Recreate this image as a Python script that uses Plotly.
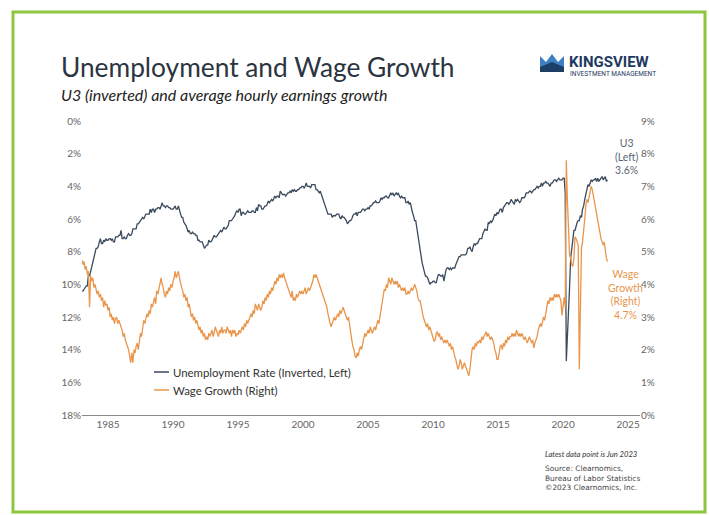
import pandas as pd
import plotly.graph_objects as go

# ---------------- DATA ----------------
start_month = "1983-01-01"

unemployment = [
    10.4, 10.4, 10.3, 10.2, 10.1, 10.1, 9.4, 9.5, 9.2, 8.8, 8.5, 8.3,   # 1983
    8.0, 7.8, 7.8, 7.7, 7.4, 7.2, 7.5, 7.5, 7.3, 7.4, 7.2, 7.3,         # 1984
    7.3, 7.2, 7.2, 7.3, 7.2, 7.4, 7.4, 7.1, 7.1, 7.1, 7.0, 7.0,         # 1985
    6.7, 7.2, 7.2, 7.1, 7.2, 7.2, 7.0, 6.9, 7.0, 7.0, 6.9, 6.6,         # 1986
    6.6, 6.6, 6.6, 6.3, 6.3, 6.2, 6.1, 6.0, 5.9, 6.0, 5.8, 5.7,         # 1987
    5.7, 5.7, 5.7, 5.4, 5.6, 5.4, 5.4, 5.6, 5.4, 5.4, 5.3, 5.3,         # 1988
    5.4, 5.2, 5.0, 5.2, 5.2, 5.3, 5.2, 5.2, 5.3, 5.3, 5.4, 5.4,         # 1989
    5.4, 5.3, 5.2, 5.4, 5.4, 5.2, 5.5, 5.7, 5.9, 5.9, 6.2, 6.3,         # 1990
    6.4, 6.6, 6.8, 6.7, 6.9, 6.9, 6.8, 6.9, 6.9, 7.0, 7.0, 7.3,         # 1991
    7.3, 7.4, 7.4, 7.4, 7.6, 7.8, 7.7, 7.6, 7.6, 7.3, 7.4, 7.4,         # 1992
    7.3, 7.1, 7.0, 7.1, 7.1, 7.0, 6.9, 6.8, 6.7, 6.8, 6.6, 6.5,         # 1993
    6.6, 6.6, 6.5, 6.4, 6.1, 6.1, 6.1, 6.0, 5.9, 5.8, 5.6, 5.5,         # 1994
    5.6, 5.4, 5.4, 5.8, 5.6, 5.6, 5.7, 5.7, 5.6, 5.5, 5.6, 5.6,         # 1995
    5.6, 5.5, 5.5, 5.6, 5.6, 5.3, 5.5, 5.1, 5.2, 5.2, 5.4, 5.4,         # 1996
    5.3, 5.2, 5.2, 5.1, 4.9, 5.0, 4.9, 4.8, 4.9, 4.7, 4.6, 4.7,         # 1997
    4.6, 4.6, 4.7, 4.3, 4.4, 4.5, 4.5, 4.5, 4.6, 4.5, 4.4, 4.4,         # 1998
    4.3, 4.4, 4.2, 4.3, 4.2, 4.3, 4.3, 4.2, 4.2, 4.1, 4.1, 4.0,         # 1999
    4.0, 4.1, 4.0, 3.8, 4.0, 4.0, 4.0, 4.1, 3.9, 3.9, 3.9, 3.9,         # 2000
    4.2, 4.2, 4.3, 4.4, 4.3, 4.5, 4.6, 4.9, 5.0, 5.3, 5.5, 5.7,         # 2001
    5.7, 5.7, 5.7, 5.9, 5.8, 5.8, 5.8, 5.7, 5.7, 5.7, 5.9, 6.0,         # 2002
    5.8, 5.9, 5.9, 6.0, 6.1, 6.3, 6.2, 6.1, 6.1, 6.0, 5.8, 5.7,         # 2003
    5.7, 5.6, 5.8, 5.6, 5.6, 5.6, 5.5, 5.4, 5.4, 5.5, 5.4, 5.4,         # 2004
    5.3, 5.4, 5.2, 5.2, 5.1, 5.0, 5.0, 4.9, 5.0, 5.0, 5.0, 4.9,         # 2005
    4.7, 4.8, 4.7, 4.7, 4.6, 4.6, 4.7, 4.7, 4.5, 4.4, 4.5, 4.4,         # 2006
    4.6, 4.5, 4.4, 4.5, 4.4, 4.6, 4.7, 4.6, 4.7, 4.7, 4.7, 5.0,         # 2007
    5.0, 4.9, 5.1, 5.0, 5.4, 5.6, 5.8, 6.1, 6.1, 6.5, 6.8, 7.3,         # 2008
    7.8, 8.3, 8.7, 9.0, 9.4, 9.5, 9.5, 9.6, 9.8, 10.0, 9.9, 9.9,        # 2009
    9.8, 9.8, 9.9, 9.9, 9.6, 9.4, 9.4, 9.5, 9.5, 9.4, 9.8, 9.3,         # 2010
    9.1, 9.0, 9.0, 9.1, 9.0, 9.1, 9.0, 9.0, 9.0, 8.8, 8.6, 8.5,         # 2011
    8.3, 8.3, 8.2, 8.2, 8.2, 8.2, 8.2, 8.1, 7.8, 7.8, 7.7, 7.9,         # 2012
    8.0, 7.7, 7.5, 7.6, 7.5, 7.5, 7.3, 7.2, 7.2, 7.2, 6.9, 6.7,         # 2013
    6.6, 6.7, 6.7, 6.2, 6.3, 6.1, 6.2, 6.1, 5.9, 5.7, 5.8, 5.6,         # 2014
    5.7, 5.5, 5.4, 5.4, 5.6, 5.3, 5.2, 5.1, 5.0, 5.0, 5.1, 5.0,         # 2015
    4.8, 4.9, 5.0, 5.1, 4.8, 4.9, 4.8, 4.9, 5.0, 4.9, 4.7, 4.7,         # 2016
    4.7, 4.6, 4.4, 4.4, 4.4, 4.3, 4.3, 4.4, 4.3, 4.2, 4.2, 4.1,         # 2017
    4.0, 4.1, 4.0, 4.0, 3.8, 4.0, 3.8, 3.8, 3.7, 3.8, 3.8, 3.9,         # 2018
    4.0, 3.8, 3.8, 3.7, 3.6, 3.6, 3.7, 3.6, 3.5, 3.6, 3.6, 3.6,         # 2019
    3.5, 3.5, 4.4, 14.7, 13.2, 11.0, 10.2, 8.4, 7.8, 6.9, 6.7, 6.7,     # 2020
    6.4, 6.2, 6.1, 6.1, 5.8, 5.9, 5.4, 5.2, 4.8, 4.5, 4.2, 3.9,         # 2021
    4.0, 3.8, 3.6, 3.7, 3.6, 3.6, 3.5, 3.7, 3.5, 3.7, 3.6, 3.5,         # 2022
    3.4, 3.6, 3.5, 3.4, 3.7, 3.6,                                       # 2023
]

wage_growth = [
    4.75, 4.6, 4.7, 4.45, 4.55, 4.3, 4.4, 3.3, 4.25, 4.1, 4.2, 3.9,     # 1983
    4.0, 3.85, 3.7, 3.8, 3.6, 3.7, 3.5, 3.6, 3.3, 3.5, 3.35, 3.4,       # 1984
    3.2, 3.3, 3.0, 3.1, 2.9, 3.0, 2.8, 2.95, 3.0, 2.8, 2.9, 2.8,        # 1985
    2.7, 2.6, 2.4, 2.5, 2.3, 2.2, 2.1, 2.0, 1.8, 1.6, 1.9, 1.6,         # 1986
    2.0, 1.9, 2.1, 2.2, 2.0, 2.3, 2.5, 2.4, 2.7, 2.9, 2.8, 3.0,         # 1987
    3.1, 3.0, 3.2, 3.1, 3.4, 3.3, 3.5, 3.6, 3.4, 3.8, 3.7, 3.9,         # 1988
    4.0, 4.2, 4.0, 3.9, 3.7, 3.6, 3.8, 3.7, 3.9, 3.8, 4.0, 3.9,         # 1989
    4.1, 4.2, 4.4, 4.2, 4.3, 4.4, 4.2, 4.0, 3.9, 3.8, 3.6, 3.7,         # 1990
    3.5, 3.6, 3.3, 3.4, 3.2, 3.0, 3.1, 2.9, 3.0, 2.8, 2.9, 2.7,         # 1991
    2.6, 2.7, 2.5, 2.6, 2.4, 2.5, 2.3, 2.4, 2.3, 2.5, 2.4, 2.5,         # 1992
    2.6, 2.4, 2.5, 2.7, 2.6, 2.5, 2.4, 2.6, 2.5, 2.7, 2.5, 2.6,         # 1993
    2.6, 2.5, 2.7, 2.6, 2.5, 2.6, 2.4, 2.6, 2.5, 2.6, 2.4, 2.5,         # 1994
    2.45, 2.6, 2.5, 2.6, 2.7, 2.6, 2.8, 2.7, 2.9, 2.8, 2.9, 3.0,        # 1995
    3.1, 3.0, 3.2, 3.1, 3.4, 3.3, 3.2, 3.4, 3.3, 3.2, 3.3, 3.5,         # 1996
    3.4, 3.6, 3.5, 3.7, 3.6, 3.8, 3.7, 3.9, 3.8, 4.0, 4.1, 4.0,         # 1997
    4.2, 4.1, 4.3, 4.2, 4.3, 4.2, 4.35, 4.2, 4.1, 4.0, 3.9, 3.8,        # 1998
    3.7, 3.6, 3.8, 3.5, 3.6, 3.5, 3.7, 3.6, 3.7, 3.8, 3.7, 3.8,         # 1999
    3.7, 3.8, 3.9, 3.7, 3.8, 3.9, 3.8, 3.9, 4.0, 4.1, 4.3, 4.2,         # 2000
    4.3, 4.2, 4.1, 4.0, 3.9, 3.8, 3.7, 3.6, 3.5, 3.4, 3.3, 3.1,         # 2001
    2.9, 2.8, 2.7, 2.8, 2.9, 3.0, 2.9, 3.0, 3.1, 3.0, 3.2, 3.1,         # 2002
    3.2, 3.3, 3.2, 3.1, 3.0, 2.9, 3.0, 2.7, 2.5, 2.3, 2.1, 2.0,         # 2003
    1.8, 1.75, 1.9, 1.8, 2.0, 2.1, 2.0, 2.2, 2.3, 2.5, 2.4, 2.5,        # 2004
    2.6, 2.5, 2.7, 2.6, 2.5, 2.6, 2.7, 2.6, 2.8, 2.9, 2.8, 3.0,         # 2005
    3.2, 3.5, 3.6, 3.85, 3.8, 4.0, 3.9, 4.2, 4.1, 4.0, 4.2, 4.1,        # 2006
    4.0, 4.1, 4.0, 4.1, 3.9, 4.0, 3.9, 3.8, 3.9, 3.8, 3.9, 3.7,         # 2007
    3.7, 3.8, 3.7, 3.8, 3.9, 3.8, 3.9, 4.0, 3.9, 3.8, 3.6, 3.5,         # 2008
    3.5, 3.3, 3.2, 3.0, 2.9, 2.8, 2.7, 2.8, 2.6, 2.7, 2.6, 2.5,         # 2009
    2.4, 2.25, 2.3, 2.5, 2.55, 2.4, 2.5, 2.3, 2.4, 2.3, 2.2, 2.3,       # 2010
    2.2, 2.3, 2.2, 2.1, 2.2, 2.0, 2.1, 1.9, 1.8, 1.7, 1.5, 1.4,         # 2011
    1.5, 1.7, 1.6, 1.4, 1.5, 1.6, 1.5, 1.4, 1.3, 1.2, 1.4, 1.7,         # 2012
    2.0, 2.1, 2.0, 2.2, 2.1, 2.25, 2.2, 2.3, 2.2, 2.4, 2.3, 2.4,        # 2013
    2.5, 2.55, 2.4, 2.5, 2.4, 2.3, 2.4, 2.3, 2.2, 2.0, 1.9, 1.7,        # 2014
    1.7, 1.9, 2.1, 2.15, 2.0, 2.2, 2.1, 2.3, 2.2, 2.4, 2.3, 2.4,        # 2015
    2.4, 2.5, 2.4, 2.5, 2.4, 2.6, 2.5, 2.4, 2.5, 2.4, 2.5, 2.4,         # 2016
    2.3, 2.4, 2.3, 2.2, 2.3, 2.4, 2.3, 2.2, 2.3, 2.05, 2.2, 2.3,        # 2017
    2.4, 2.6, 2.7, 2.8, 2.7, 2.9, 3.0, 2.9, 3.1, 3.3, 3.5, 3.4,         # 2018
    3.6, 3.5, 3.6, 3.5, 3.7, 3.6, 3.7, 3.6, 3.7, 3.6, 3.5, 3.05,        # 2019
    3.4, 3.6, 3.3, 7.8, 6.6, 5.3, 4.9, 4.8, 4.6, 4.55, 4.8, 5.45,       # 2020
    5.4, 5.3, 5.2, 1.4, 3.4, 5.1, 5.3, 5.6, 6.0, 6.4, 6.6, 6.5,         # 2021
    6.7, 6.85, 7.0, 6.9, 6.7, 6.55, 6.3, 6.1, 6.0, 5.7, 5.5, 5.4,       # 2022
    5.3, 5.2, 5.3, 5.0, 4.8, 4.7,                                       # 2023
]

left_ticks = [0, 2, 4, 6, 8, 10, 12, 14, 16, 18]
right_ticks = [0, 1, 2, 3, 4, 5, 6, 7, 8, 9]
year_ticks = [1985, 1990, 1995, 2000, 2005, 2010, 2015, 2020, 2025]

u_dates = pd.date_range(start_month, periods=len(unemployment), freq="MS")
w_dates = pd.date_range(start_month, periods=len(wage_growth), freq="MS")

# ---------------- STYLE ----------------
BLUE = "#3b4a5c"
ORANGE = "#e9964c"
TICK = "#666666"
FONT = "Lato"

W, H = 709, 515
X0, X1, Y0, Y1 = 82, 640, 121, 415   # plot area in page pixels


def px(x):
    return (x - X0) / (X1 - X0)


def py(y):
    return (Y1 - y) / (Y1 - Y0)


fig = go.Figure()
fig.add_trace(go.Scatter(x=u_dates, y=unemployment, mode="lines",
                         line=dict(color=BLUE, width=1.3), yaxis="y",
                         name="Unemployment Rate (Inverted, Left)", showlegend=False))
fig.add_trace(go.Scatter(x=w_dates, y=wage_growth, mode="lines",
                         line=dict(color=ORANGE, width=1.3), yaxis="y2",
                         name="Wage Growth (Right)", showlegend=False))

fig.update_layout(
    width=W, height=H,
    margin=dict(l=X0, r=W - X1, t=Y0, b=H - Y1, autoexpand=False),
    paper_bgcolor="white", plot_bgcolor="white",
    font=dict(family=FONT, color=TICK, size=10),
    xaxis=dict(
        type="date",
        range=["1983-01-01", "2025-12-01"],
        tickvals=[f"{y}-01-01" for y in year_ticks],
        ticktext=[str(y) for y in year_ticks],
        showgrid=False, zeroline=False,
        showline=True, linecolor="#8a8a8a", linewidth=1,
        ticks="", tickfont=dict(size=10, color=TICK),
    ),
    yaxis=dict(
        range=[18, 0], tickvals=left_ticks,
        ticktext=[f"{v}%" for v in left_ticks],
        showgrid=False, zeroline=False, showline=False, ticks="",
        tickfont=dict(size=10, color=TICK),
    ),
    yaxis2=dict(
        range=[0, 9], tickvals=right_ticks,
        ticktext=[f"{v}%" for v in right_ticks],
        overlaying="y", side="right",
        showgrid=False, zeroline=False, showline=False, ticks="",
        tickfont=dict(size=10, color=TICK),
    ),
    showlegend=False,
)

ann = []
shapes = []

# green frame
shapes.append(dict(type="rect", xref="paper", yref="paper",
                   x0=px(13), x1=px(705), y0=py(512), y1=py(12),
                   line=dict(color="#8dc63f", width=3), fillcolor="rgba(0,0,0,0)",
                   layer="below"))

# title & subtitle
ann.append(dict(text="Unemployment and Wage Growth", x=px(59), y=py(67),
                xref="paper", yref="paper", xanchor="left", yanchor="middle",
                showarrow=False, font=dict(family=FONT, size=26.3, color="#2b3440")))
ann.append(dict(text="<i>U3 (inverted) and average hourly earnings growth</i>",
                x=px(59), y=py(94), xref="paper", yref="paper",
                xanchor="left", yanchor="middle", showarrow=False,
                font=dict(family=FONT, size=16, color="#222222")))

# logo
shapes.append(dict(type="path", xref="paper", yref="paper",
                   path=(f"M {px(540)},{py(56)} L {px(546)},{py(62)} L {px(552)},{py(54)} "
                         f"L {px(558)},{py(62)} L {px(564)},{py(56)} L {px(564)},{py(72)} "
                         f"L {px(540)},{py(72)} Z"),
                   fillcolor="#3d7fc1", line=dict(width=0)))
shapes.append(dict(type="path", xref="paper", yref="paper",
                   path=(f"M {px(540)},{py(67)} L {px(552)},{py(62)} L {px(564)},{py(67)} "
                         f"L {px(564)},{py(72)} L {px(540)},{py(72)} Z"),
                   fillcolor="#1d3f66", line=dict(width=0)))
ann.append(dict(text="<b>KINGSVIEW</b>", x=px(567), y=py(62), xref="paper", yref="paper",
                xanchor="left", yanchor="middle", showarrow=False,
                font=dict(family="Roboto", size=15, color="#1f3a5f")))
ann.append(dict(text="INVESTMENT MANAGEMENT", x=px(568), y=py(74), xref="paper", yref="paper",
                xanchor="left", yanchor="middle", showarrow=False,
                font=dict(family="Roboto", size=6.5, color="#1f3a5f")))

# manual legend
leg = [("Unemployment Rate (Inverted, Left)", BLUE, 372),
       ("Wage Growth (Right)", ORANGE, 390)]
for label, col, yy in leg:
    shapes.append(dict(type="line", xref="paper", yref="paper",
                       x0=px(154), x1=px(169), y0=py(yy), y1=py(yy),
                       line=dict(color=col, width=1.5)))
    ann.append(dict(text=label, x=px(171), y=py(yy), xref="paper", yref="paper",
                    xanchor="left", yanchor="middle", showarrow=False,
                    font=dict(family=FONT, size=11.4, color="#333333")))

# end labels
ann.append(dict(text=f"U3<br>(Left)<br>{unemployment[-1]:.1f}%", x=px(626), y=py(156),
                xref="paper", yref="paper", xanchor="center", yanchor="middle",
                showarrow=False, align="center",
                font=dict(family=FONT, size=10.5, color="#5a6673")))
ann.append(dict(text=f"Wage<br>Growth<br>(Right)<br>{wage_growth[-1]:.1f}%", x=px(625),
                y=py(294), xref="paper", yref="paper", xanchor="center", yanchor="middle",
                showarrow=False, align="center",
                font=dict(family=FONT, size=10.5, color=ORANGE)))

# footnotes
ann.append(dict(text="<i>Latest data point is Jun 2023</i>", x=px(543), y=py(454),
                xref="paper", yref="paper", xanchor="left", yanchor="middle",
                showarrow=False, font=dict(family=FONT, size=7.6, color="#333333")))
ann.append(dict(text="Source: Clearnomics,<br>Bureau of Labor Statistics<br>©2023 Clearnomics, Inc.",
                x=px(543), y=py(478), xref="paper", yref="paper", xanchor="left",
                yanchor="middle", align="left", showarrow=False,
                font=dict(family="DejaVu Sans", size=7.4, color="#444444")))

fig.update_layout(annotations=ann, shapes=shapes)
fig.write_html("out.html")
